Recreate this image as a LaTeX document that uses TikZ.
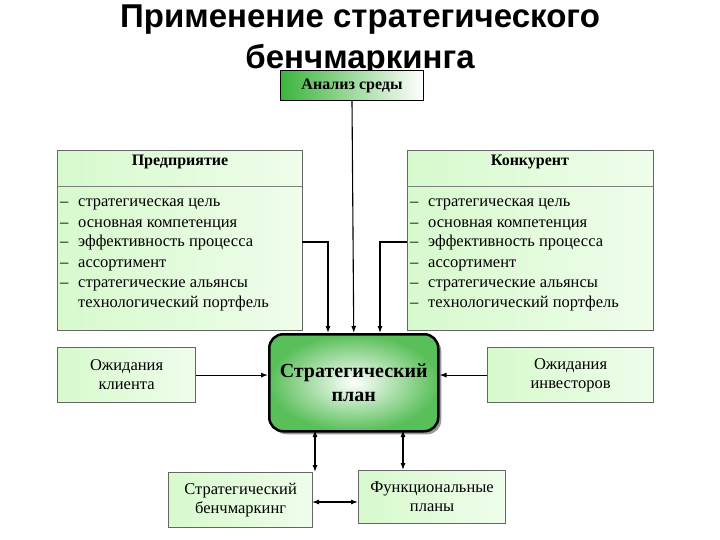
\documentclass[tikz,border=0pt]{standalone}
\usepackage{fontspec}
\setmainfont{Liberation Serif}
\newfontfamily\titlefont{Liberation Sans}
\usetikzlibrary{arrows.meta,shadows}
\definecolor{lg}{RGB}{215,250,205}
\definecolor{dg}{RGB}{60,180,60}
\tikzset{
 bx/.style={draw=gray!80!black,line width=1.2pt,left color=lg,right color=lg!40!white,anchor=north west,inner sep=0pt},
 ar/.style={-{Latex[length=7pt,width=5pt]},line width=1.1pt},
 dar/.style={{Latex[length=7pt,width=5pt]}-{Latex[length=7pt,width=5pt]},line width=1.1pt},
 itm/.style={anchor=base west,font=\fontsize{16.5}{16.5}\selectfont,inner sep=0pt},
 lbl/.style={font=\fontsize{16.5}{19}\selectfont,align=center}
}
\begin{document}
\begin{tikzpicture}[x=1pt,y=-1pt]
\useasboundingbox[fill=white] (0,0) rectangle (720,540);
\node[font=\titlefont\bfseries\fontsize{33}{33}\selectfont] (t1) at (360,20) {Применение стратегического};
\node[font=\titlefont\bfseries\fontsize{33}{33}\selectfont] (t2) at (360,60) {бенчмаркинга};
% Analiz sredy
\node[draw=black,line width=1pt,left color=dg,right color=white,minimum width=143pt,minimum height=30pt,anchor=north west,inner sep=0pt,font=\bfseries\fontsize{16}{16}\selectfont] (an) at (280,70) {Анализ среды};
% Predpriyatie
\node[bx,minimum width=245pt,minimum height=180pt] (pr) at (57,150) {};
\draw[gray,line width=1pt] (57,187) -- (302,187);
\node[font=\bfseries\fontsize{16}{16}\selectfont] (prh) at (180,162) {Предприятие};
\foreach \t [count=\i] in {стратегическая цель,основная компетенция,эффективность процесса,ассортимент,стратегические альянсы}{
 \node[itm] (p\i) at (78,187+\i*20) {\t};
 \node[itm] (pd\i) at (60,187+\i*20) {–};}
\node[itm] (p6) at (78,307) {технологический портфель};
% Konkurent
\node[bx,minimum width=246pt,minimum height=180pt] (ko) at (407,150) {};
\draw[gray,line width=1pt] (407,187) -- (653,187);
\node[font=\bfseries\fontsize{16}{16}\selectfont] (koh) at (530,162) {Конкурент};
\foreach \t [count=\i] in {стратегическая цель,основная компетенция,эффективность процесса,ассортимент,стратегические альянсы,технологический портфель}{
 \node[itm] (k\i) at (428,187+\i*20) {\t};
 \node[itm] (kd\i) at (410,187+\i*20) {–};}
% Side boxes
\node[bx,minimum width=138pt,minimum height=55pt] (cl) at (57,347) {};
\node[lbl] at (cl.center) {Ожидания\\клиента};
\node[bx,minimum width=166pt,minimum height=55pt] (in) at (487,347) {};
\node[lbl] at (in.center) {Ожидания\\инвесторов};
\node[bx,minimum width=144pt,minimum height=55pt] (bm) at (168,472) {};
\node[lbl] at (bm.center) {Стратегический\\бенчмаркинг};
\node[bx,minimum width=147pt,minimum height=53pt] (fp) at (358,470) {};
\node[lbl] at (fp.center) {Функциональные\\планы};
% Plan
\node[draw=black,line width=2.5pt,rounded corners=14pt,inner color=white,outer color=dg!85,drop shadow={shadow xshift=3pt,shadow yshift=-3pt,fill=black!80},minimum width=169pt,minimum height=97pt,anchor=north west,inner sep=0pt] (pl) at (268,333) {};
\node[lbl,font=\bfseries\fontsize{20}{24}\selectfont] at (pl.center) {Стратегический\\план};
% arrows
\draw[ar] (an.south) -- (pl.north);
\draw[ar] (302,242) -| (328,333);
\draw[ar] (407,242) -| (380,333);
\draw[ar] (cl.east) -- (cl.east -| pl.west);
\draw[ar] (in.west) -- (in.west -| pl.east);
\draw[dar] (315,430) -- (315,472);
\draw[dar] (403,430) -- (403,470);
\draw[dar] (312,502) -- (358,502);
\end{tikzpicture}
\end{document}
